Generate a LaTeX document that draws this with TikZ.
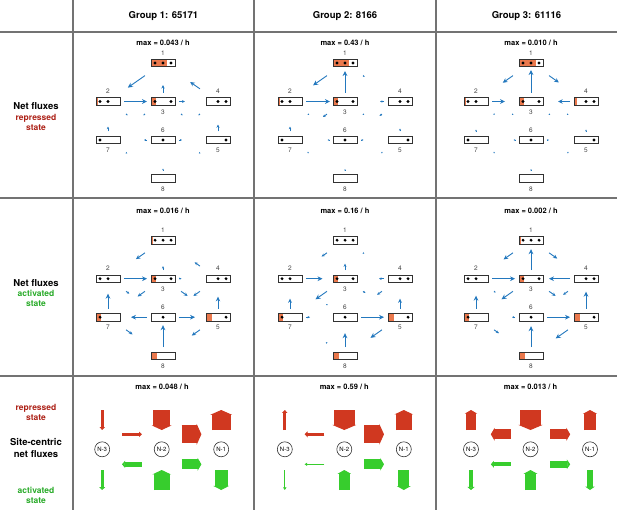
\documentclass[tikz,border=0pt]{standalone}
\usepackage{fontspec}
\setmainfont{TeX Gyre Heros}
\usetikzlibrary{arrows.meta,calc}

\definecolor{rulegray}{RGB}{115,115,115}
\definecolor{boxline}{RGB}{50,50,50}
\definecolor{occ}{RGB}{234,120,76}
\definecolor{fluxblue}{RGB}{35,120,190}
\definecolor{repred}{RGB}{208,56,32}
\definecolor{actgreen}{RGB}{55,205,45}
\definecolor{reptext}{RGB}{172,32,22}
\definecolor{acttext}{RGB}{40,170,40}

\tikzset{
  rule/.style={draw=rulegray, line width=1.2pt},
  head/.style={font=\bfseries\fontsize{9.5}{12}\selectfont, align=center, inner sep=0},
  sub/.style={font=\bfseries\fontsize{8.5}{10}\selectfont, align=center, inner sep=0},
  maxlbl/.style={font=\bfseries\fontsize{7.5}{9}\selectfont, inner sep=0},
  num/.style={font=\fontsize{6.5}{7}\selectfont, text=black!75, inner sep=0, label distance=3.5pt},
  state/.style={draw=boxline, fill=white, line width=0.9pt, minimum width=24pt,
    minimum height=7.5pt, inner sep=0},
  flux/.style={draw=fluxblue, line width=0.9pt},
  site/.style={circle, draw=black!80, line width=0.6pt, minimum size=15pt, inner sep=0,
    font=\fontsize{6}{7}\selectfont},
  sitearr/.style={line width=#1, -{Triangle[length=2.5pt 0.12, width=2.5pt 1]}},
}

% eight states of three sites, state 3 at #2, #3 = occupancy of states 1..8
\newcommand\statecell[3]{%
  \begin{scope}[shift={#2}]
  \foreach \n/\bx/\by/\lp/\dl in {1/0/-38.5/above/{-8,0,8},2/-55/0/above/{-8,0},
      3/0/0/below/{-8,8},4/55/0/above/{0,8},5/55/38.5/below/{8},6/0/38.5/above/{0},
      7/-55/38.5/below/{-8},8/0/77/below/{99}}{
    \pgfmathsetmacro\fr{{0,#3}[\n]}
    \node[state, label={[num, label distance=3.5pt]\lp:\n}, path picture={
        \fill[occ] (path picture bounding box.south west) rectangle
          ([xshift=\fr*24pt]path picture bounding box.north west);
        \foreach \d in \dl {\fill[black] ([xshift=\d pt]path picture bounding box.center) circle (1.55pt);}
      }] (#1-\n) at (\bx,\by) {};
  }
  \end{scope}}

% net flux arrows src/dst/length
\newcommand\fluxes[2]{%
  \foreach \fa/\fb/\fl in {#2}{
    \pgfmathtruncatemacro\colA{{0,0,-1,0,1,1,0,-1,0}[\fa]}
    \pgfmathtruncatemacro\colB{{0,0,-1,0,1,1,0,-1,0}[\fb]}
    \pgfmathtruncatemacro\rowA{{0,-1,0,0,0,1,1,1,2}[\fa]}
    \pgfmathtruncatemacro\rowB{{0,-1,0,0,0,1,1,1,2}[\fb]}
    \ifnum\colA=\colB \def\dd{8.5}\else\ifnum\rowA=\rowB \def\dd{16}\else\def\dd{22}\fi\fi
    \pgfmathsetmacro\de{\dd+\fl}
    \pgfmathsetmacro\hl{min(5,0.28*\fl+1.3)}
    \pgfmathsetmacro\hw{0.95*\hl}
    \draw[flux, -{Stealth[length=\hl pt, width=\hw pt]}]
      ($(#1-\fa)!\dd pt!(#1-\fb)$) -- ($(#1-\fa)!\de pt!(#1-\fb)$);
  }}

% site-centric fluxes: #3/#4 red/green vertical k/dir/width, #5/#6 red/green horizontal a/b/width
\newcommand\sitecell[6]{%
  \foreach \k/\sx in {3/-59.5,2/0,1/59.5}
    \node[site] (#1-\k) at (#2+\sx,449.3) {N-\k};
  \foreach \k/\dir/\w in {#3}
    \draw[sitearr=\w pt, repred] ($(#1-\k)+(0,-29.3-10*\dir)$) -- ($(#1-\k)+(0,-29.3+10*\dir)$);
  \foreach \k/\dir/\w in {#4}
    \draw[sitearr=\w pt, actgreen] ($(#1-\k)+(0,30.7-10*\dir)$) -- ($(#1-\k)+(0,30.7+10*\dir)$);
  \foreach \a/\b/\w in {#5}
    \draw[sitearr=\w pt, repred] ($(#1-\a)!0.333!(#1-\b)+(0,-15)$) -- ($(#1-\a)!0.667!(#1-\b)+(0,-15)$);
  \foreach \a/\b/\w in {#6}
    \draw[sitearr=\w pt, actgreen] ($(#1-\a)!0.333!(#1-\b)+(0,15)$) -- ($(#1-\a)!0.667!(#1-\b)+(0,15)$);
}

\begin{document}
\begin{tikzpicture}[x=1pt,y=-1pt]
\useasboundingbox (0,0) rectangle (617,510);
% table rules
\draw[rule] (0,32) -- (617,32) (0,198) -- (617,198) (0,376) -- (617,376);
\draw[rule] (73,0) -- (73,510) (254,0) -- (254,510) (436,0) -- (436,510);

% column and row heads
\node[head] (g1) at (163.5,16) {Group 1: 65171};
\node[head] (g2) at (345,16) {Group 2: 8166};
\node[head] (g3) at (526.5,16) {Group 3: 61116};
\node[head] (h1) at (36,106) {Net fluxes};
\node[sub, text=reptext] (h1s) at (36,122) {repressed\\state};
\node[head] (h2) at (36,283) {Net fluxes};
\node[sub, text=acttext] (h2s) at (36,298) {activated\\state};
\node[sub, text=reptext] (h3r) at (36,412) {repressed\\state};
\node[head] (h3) at (36,448) {Site-centric\\net fluxes};
\node[sub, text=acttext] (h3a) at (36,495) {activated\\state};

% max values
\node[maxlbl] (m11) at (163,43) {max = 0.043 / h};
\node[maxlbl] (m12) at (345,43) {max = 0.43 / h};
\node[maxlbl] (m13) at (531,43) {max = 0.010 / h};
\node[maxlbl] (m21) at (163,211) {max = 0.016 / h};
\node[maxlbl] (m22) at (345,211) {max = 0.16 / h};
\node[maxlbl] (m23) at (531,211) {max = 0.002 / h};
\node[maxlbl] (m31) at (162,386.7) {max = 0.048 / h};
\node[maxlbl] (m32) at (344.3,386.7) {max = 0.59 / h};
\node[maxlbl] (m33) at (530.5,386.7) {max = 0.013 / h};

% repressed state
\statecell{ra}{(163,101.5)}{0.65,0.1,0.2,0.06,0.05,0,0.05,0}
\fluxes{ra}{1/2/21,3/1/8,4/1/12,2/3/23,3/4/6,2/6/2,3/7/2,3/5/2,4/6/2,7/2/5,6/7/3,6/5/3,5/4/7,7/8/1.5,5/8/1.5,8/6/1.5}
\statecell{rb}{(345,101.5)}{0.66,0.1,0.2,0.06,0,0.03,0.06,0}
\fluxes{rb}{1/2/17,3/1/22,1/4/2,2/3/24,4/3/4,3/7/5,2/6/1.5,3/5/1.5,4/6/3,7/2/5,6/7/1.5,6/5/2.5,5/4/3,7/8/1,5/8/1,8/6/1}
\statecell{rc}{(531,101.5)}{0.7,0.1,0.22,0.13,0.05,0.03,0.06,0}
\fluxes{rc}{1/2/12.5,3/1/23,1/4/12,2/3/13,4/3/12,2/6/1,3/7/1.5,3/5/1.5,4/6/1.5,7/2/2,5/4/2,6/7/1.5,6/5/2,7/8/1,5/8/1,8/6/1}

% activated state
\statecell{aa}{(163,278.7)}{0.1,0.05,0.2,0.06,0.25,0,0.22,0.25}
\fluxes{aa}{1/2/11,3/1/4,4/1/6.5,2/3/23,3/4/2.5,2/6/4,3/7/9,3/5/8,4/6/8,6/7/16,6/5/16,5/4/12,7/2/15,7/8/8,5/8/10,8/6/22}
\statecell{ab}{(345,278.7)}{0.06,0.03,0.2,0.06,0.24,0.03,0.2,0.24}
\fluxes{ab}{1/2/6.5,1/4/1.5,3/1/6.5,2/3/16.5,4/3/5,3/7/14,6/2/1,3/5/3,4/6/6,7/2/10,7/6/4,6/5/23,5/4/10,5/8/14,8/6/14,8/7/1.5}
\statecell{ac}{(531,278.7)}{0.1,0.03,0.2,0.06,0.25,0.03,0.2,0.26}
\fluxes{ac}{1/2/11.5,1/4/10,3/1/21,2/3/23,4/3/21,2/6/2,3/7/14,3/5/8,4/6/6,7/2/13,5/4/17,6/7/3,6/5/23,7/8/6,5/8/15,8/6/21}

% site-centric
\sitecell{sa}{161.7}{3/1/2.7,2/1/17,1/-1/19}{3/1/3.3,2/-1/16,1/1/13}{3/2/2.7,2/1/18}{2/3/4.5,2/1/10}
\sitecell{sb}{344.3}{3/-1/2.7,2/1/21,1/-1/16}{3/1/0.8,2/-1/10.7,1/1/11}{2/3/3.3,2/1/18}{2/3/0.8,2/1/10}
\sitecell{sc}{530.5}{3/-1/10,2/1/21.7,1/-1/11.7}{3/1/4.5,2/-1/11.3,1/1/6.7}{2/3/10,2/1/10}{2/3/4,2/1/7}
\end{tikzpicture}
\end{document}
